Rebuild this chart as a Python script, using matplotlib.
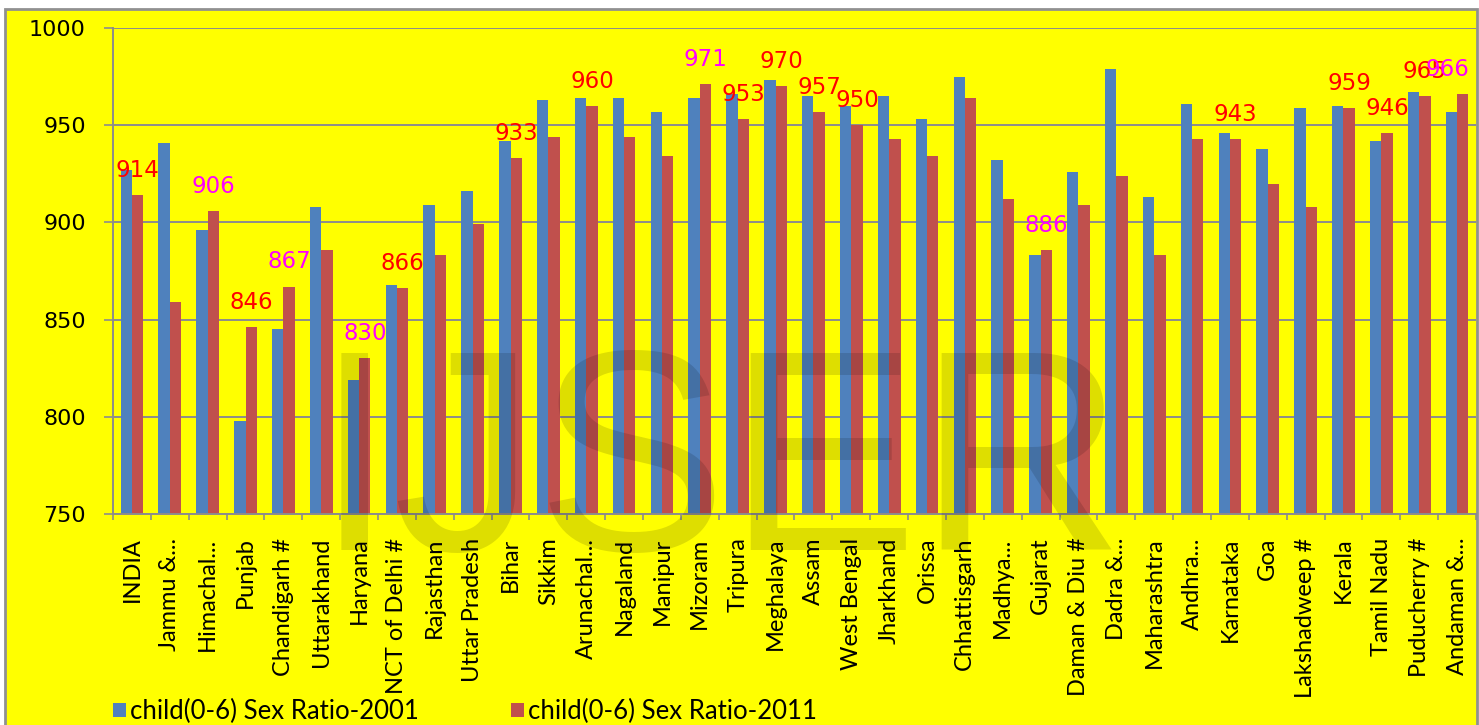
import numpy as np
import matplotlib
matplotlib.use('Agg')
import matplotlib.pyplot as plt
from matplotlib.patches import Rectangle

# Child (0-6) sex ratio by state, census 2001 vs 2011
states = ['INDIA', 'Jammu &...', 'Himachal...', 'Punjab', 'Chandigarh #', 'Uttarakhand',
          'Haryana', 'NCT of Delhi #', 'Rajasthan', 'Uttar Pradesh', 'Bihar', 'Sikkim',
          'Arunachal...', 'Nagaland', 'Manipur', 'Mizoram', 'Tripura', 'Meghalaya',
          'Assam', 'West Bengal', 'Jharkhand', 'Orissa', 'Chhattisgarh', 'Madhya...',
          'Gujarat', 'Daman & Diu #', 'Dadra &...', 'Maharashtra', 'Andhra...', 'Karnataka',
          'Goa', 'Lakshadweep #', 'Kerala', 'Tamil Nadu', 'Puducherry #', 'Andaman &...']
ratio_2001 = [927, 941, 896, 798, 845, 908, 819, 868, 909, 916, 942, 963,
              964, 964, 957, 964, 966, 973, 965, 960, 965, 953, 975, 932,
              883, 926, 979, 913, 961, 946, 938, 959, 960, 942, 967, 957]
ratio_2011 = [914, 859, 906, 846, 867, 886, 830, 866, 883, 899, 933, 944,
              960, 944, 934, 971, 953, 970, 957, 950, 943, 934, 964, 912,
              886, 909, 924, 883, 943, 943, 920, 908, 959, 946, 965, 966]

# states whose 2011 value is written over the bar
labelled_red = ['INDIA', 'Punjab', 'NCT of Delhi #', 'Bihar', 'Arunachal...', 'Tripura',
                'Meghalaya', 'Assam', 'West Bengal', 'Karnataka', 'Kerala', 'Tamil Nadu',
                'Puducherry #']
labelled_pink = ['Himachal...', 'Chandigarh #', 'Haryana', 'Mizoram', 'Gujarat', 'Andaman &...']

YELLOW = '#FFFF00'
GRID = '#8c8c8c'
BLUE = '#4F81BD'
RED = '#C0504D'

W, H = 1479, 725
fig = plt.figure(figsize=(W / 100, H / 100), dpi=100)
fig.patch.set_facecolor('white')

# outer chart frame
fig.patches.append(Rectangle((5 / W, -0.02), 1472 / W, 1 - 9 / H + 0.02,
                             transform=fig.transFigure, facecolor=YELLOW,
                             edgecolor='#909090', linewidth=2, zorder=-1))

ax = fig.add_axes([113 / W, 1 - 514 / H, (1476 - 113) / W, (514 - 28) / H])
ax.set_facecolor(YELLOW)

x = np.arange(len(states))
bw = 0.3
ax.bar(x - bw / 2, ratio_2001, bw, bottom=0, color=BLUE, zorder=2,
       label='child(0-6) Sex Ratio-2001')
ax.bar(x + bw / 2, ratio_2011, bw, bottom=0, color=RED, zorder=2,
       label='child(0-6) Sex Ratio-2011')

last = len(states) - 1
for i, name in enumerate(states):
    if name in labelled_red:
        col = '#FF0000'
    elif name in labelled_pink:
        col = '#FF00FF'
    else:
        continue
    # keep the last label inside the plot area
    dx = -11 if i == last else 0
    ax.annotate(str(ratio_2011[i]), (x[i] + bw / 2, ratio_2011[i]),
                xytext=(dx, 13), textcoords='offset points', ha='center',
                va='baseline', fontsize=16.5, color=col, family='DejaVu Sans',
                zorder=4, annotation_clip=False)

ax.set_xlim(-0.5, len(states) - 0.5)
ax.set_ylim(750, 1000)
ax.set_yticks(np.arange(750, 1001, 50))
ax.yaxis.grid(True, color=GRID, linewidth=1.4, zorder=1)
ax.set_axisbelow(True)
ax.tick_params(axis='y', length=6.5, width=1.2, color=GRID, pad=13,
               labelsize=16, labelcolor='black')
for t in ax.get_yticklabels():
    t.set_family('DejaVu Sans')

ax.set_xticks(x)
ax.set_xticklabels(states, rotation=90, fontsize=17, family='Lato', va='top')
ax.set_xticks(np.arange(-0.5, len(states)), minor=True)
ax.tick_params(axis='x', which='major', length=0, pad=17)
ax.tick_params(axis='x', which='minor', length=4.3, width=1.2, color=GRID)

for side in ['top', 'right']:
    ax.spines[side].set_visible(False)
for side in ['left', 'bottom']:
    ax.spines[side].set_color(GRID)
    ax.spines[side].set_linewidth(1.4)

handles, labels = ax.get_legend_handles_labels()
fig.legend(handles, labels, loc='lower left', bbox_to_anchor=(113 / W, 1 / H),
           ncol=2, frameon=False, prop={'family': 'Lato', 'size': 18.5},
           handlelength=0.5, handleheight=0.5, handletextpad=0.15,
           columnspacing=3.6, borderpad=0, borderaxespad=0)

# faint IJSER watermark over the plot
fig.text(315 / W, 1 - 550 / H, 'IJSER', fontsize=206, family='Liberation Sans',
         color='black', alpha=0.13, ha='left', va='baseline', zorder=5)

fig.savefig('out.png', dpi=100, facecolor=fig.get_facecolor())
